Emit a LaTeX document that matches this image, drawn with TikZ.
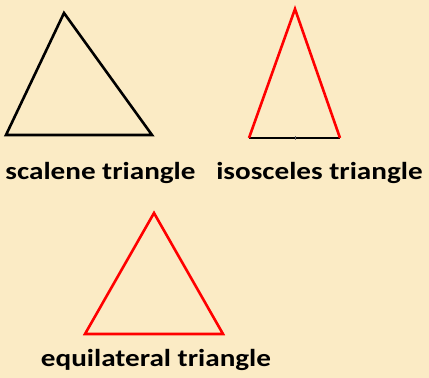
\documentclass[tikz,border=0pt]{standalone}
\usepackage{fontspec}
\setmainfont{Carlito}
\definecolor{bg}{RGB}{251,235,197}
\definecolor{tred}{RGB}{255,0,0}
\newcommand{\lbltext}[1]{\scalebox{1.19}[1]{#1}}
\tikzset{
  edge/.style={line width=2.6pt, line join=miter},
  lbl/.style={font=\bfseries\fontsize{24.5}{28}\selectfont, anchor=base, inner sep=0pt}
}
\begin{document}
\begin{tikzpicture}[x=1pt,y=1pt]
\fill[bg] (0,0) rectangle (429,378);
\useasboundingbox (0,0) rectangle (429,378);
% scalene
\coordinate (sA) at (64,365);
\coordinate (sB) at (6,243);
\coordinate (sC) at (152,243);
\draw[edge, black] (sA) -- (sB) -- (sC) -- cycle;
% isosceles
\coordinate (iA) at (295,369);
\coordinate (iB) at (249,240);
\coordinate (iC) at (340,240);
\coordinate (iM) at (295,240);
\draw[edge, black] (iB) -- (iC);
\draw[edge, tred, line cap=butt] (iB) -- (iA) -- (iC);
\draw[line width=0.8pt, black!60] (iM) ++(0,-1.6) -- ++(0,3.2);
% equilateral
\coordinate (eA) at (154,165);
\coordinate (eB) at (85,44);
\coordinate (eC) at (223,44);
\draw[edge, tred] (eA) -- (eB) -- (eC) -- cycle;
% labels
\node[lbl] (ls) at (100.5,198.3) {\lbltext{scalene triangle}};
\node[lbl] (li) at (319.5,198.3) {\lbltext{isosceles triangle}};
\node[lbl] (le) at (156,12) {\lbltext{equilateral triangle}};
\end{tikzpicture}
\end{document}
